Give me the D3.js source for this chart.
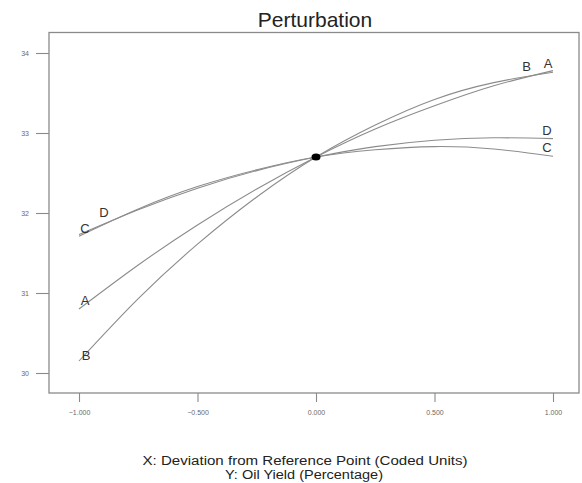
<!DOCTYPE html>
<html>
<head>
<meta charset="utf-8">
<script src="https://cdn.jsdelivr.net/npm/d3@7"></script>
<style>
  body { margin: 0; background: #fff; }
  svg { display: block; font-family: "Liberation Sans", Arial, sans-serif; }
</style>
</head>
<body>
<svg id="chart" width="582" height="483"></svg>
<script>
// Perturbation plot: response traced along each factor through the reference point
const deviation = [-1, -0.75, -0.5, -0.25, 0, 0.25, 0.5, 0.75, 1];
const factorA = [30.80, 31.35, 31.85, 32.30, 32.70, 33.05, 33.34, 33.59, 33.78];
const factorB = [30.15, 30.93, 31.61, 32.20, 32.70, 33.10, 33.42, 33.63, 33.76];
const factorC = [31.71, 32.05, 32.33, 32.54, 32.70, 32.79, 32.83, 32.80, 32.71];
const factorD = [31.73, 32.04, 32.31, 32.53, 32.70, 32.83, 32.91, 32.94, 32.93];
const referencePoint = [0, 32.70];
const xTicks = [-1, -0.5, 0, 0.5, 1];
const yTicks = [30, 31, 32, 33, 34];

const series = [
  { name: "A", values: factorA },
  { name: "B", values: factorB },
  { name: "C", values: factorC },
  { name: "D", values: factorD }
];

// factor label anchors: [name, deviation, dx, dy]
const labelAnchors = [
  ["C", -1, 6, -3.5], ["D", -0.92, 6, -9.5], ["A", -1, 6, -4.5], ["B", -1, 7, -1.5],
  ["B", 0.91, -5, -5], ["A", 1, -5, -3], ["D", 1, -6, -4], ["C", 1, -6, -4.5]
];

const svg = d3.select("#chart");
const frame = { left: 49, right: 579, top: 32.5, bottom: 393 };

const x = d3.scaleLinear().domain([-1, 1]).range([79, 553]);
const y = d3.scaleLinear().domain([30, 34]).range([373, 53]);

// plot frame
svg.append("rect")
  .attr("x", frame.left).attr("y", frame.top)
  .attr("width", frame.right - frame.left).attr("height", frame.bottom - frame.top)
  .attr("fill", "none").attr("stroke", "#8a8a8a").attr("stroke-width", 1.3);

// axes
const yAxis = svg.append("g")
  .attr("transform", `translate(${frame.left},0)`)
  .call(d3.axisLeft(y).tickValues(yTicks).tickFormat(d3.format("d")).tickSize(13).tickPadding(7));
const xAxis = svg.append("g")
  .attr("transform", `translate(0,${frame.bottom})`)
  .call(d3.axisBottom(x).tickValues(xTicks).tickFormat(d3.format(".3f")).tickSize(9).tickPadding(8));

[yAxis, xAxis].forEach(g => {
  g.select(".domain").remove();
  g.selectAll(".tick line").attr("stroke", "#8a8a8a").attr("stroke-width", 1.1);
  g.selectAll(".tick text").attr("fill", "#6a6a6a").attr("font-size", 7).attr("font-family", "Liberation Sans, Arial, sans-serif");
});

// response traces
const line = d3.line()
  .x((d, i) => x(deviation[i]))
  .y(d => y(d))
  .curve(d3.curveNatural);

svg.append("g").selectAll("path")
  .data(series)
  .join("path")
  .attr("d", d => line(d.values))
  .attr("fill", "none")
  .attr("stroke", "#8c8c8c")
  .attr("stroke-width", 1.1);

// factor labels
const byName = Object.fromEntries(series.map(s => [s.name, s]));
const interp = (s, xv) => {
  const i = Math.min(deviation.length - 2, Math.max(0, d3.bisectRight(deviation, xv) - 1));
  const t = (xv - deviation[i]) / (deviation[i + 1] - deviation[i]);
  return s.values[i] + t * (s.values[i + 1] - s.values[i]);
};
svg.append("g").selectAll("text")
  .data(labelAnchors)
  .join("text")
  .attr("x", d => x(d[1]) + d[2])
  .attr("y", d => y(interp(byName[d[0]], d[1])) + d[3])
  .attr("text-anchor", "middle")
  .attr("font-size", 13)
  .attr("fill", "#333")
  .text(d => d[0]);

// reference point
svg.append("ellipse")
  .attr("cx", x(referencePoint[0])).attr("cy", y(referencePoint[1]))
  .attr("rx", 4.5).attr("ry", 3.5)
  .attr("fill", "#000");

// title and axis descriptions
svg.append("text")
  .attr("x", 315).attr("y", 27)
  .attr("text-anchor", "middle")
  .attr("font-size", 21)
  .attr("fill", "#222")
  .text("Perturbation");

svg.append("text")
  .attr("x", 305).attr("y", 465)
  .attr("text-anchor", "middle")
  .attr("font-size", 12.5)
  .attr("textLength", 325)
  .attr("lengthAdjust", "spacingAndGlyphs")
  .attr("fill", "#222")
  .text("X: Deviation from Reference Point (Coded Units)");
svg.append("text")
  .attr("x", 304).attr("y", 479)
  .attr("text-anchor", "middle")
  .attr("font-size", 12.5)
  .attr("textLength", 158)
  .attr("lengthAdjust", "spacingAndGlyphs")
  .attr("fill", "#222")
  .text("Y: Oil Yield (Percentage)");
</script>
</body>
</html>
